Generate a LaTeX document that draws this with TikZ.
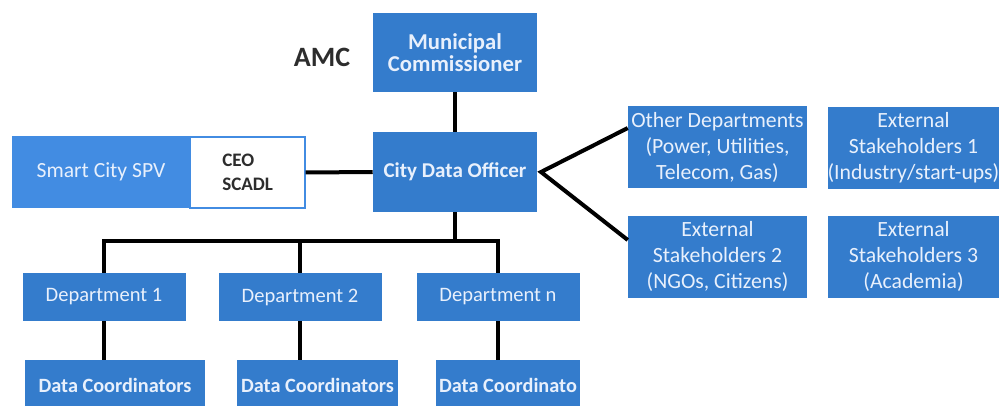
\documentclass[tikz,border=0pt]{standalone}
\usepackage{fontspec}
\setmainfont{Carlito}
\usepackage{tikz}

\definecolor{boxblue}{RGB}{52,124,204}
\definecolor{spvblue}{RGB}{66,140,226}
\definecolor{boxtext}{RGB}{232,240,252}
\definecolor{darktext}{RGB}{45,45,45}

\begin{document}
\begin{tikzpicture}[x=0.75pt,y=0.75pt,yscale=-1,xscale=1,
  box/.style={fill=boxblue,draw=none,inner sep=0pt,align=center,text=boxtext},
  link/.style={draw=black,line width=3pt},
  rbox/.style={box,minimum height=61.5pt,font=\fontsize{16.3}{19.5}\selectfont},
  deptbox/.style={box,minimum width=122.25pt,minimum height=36pt,font=\fontsize{15.4}{18}\selectfont},
  coordbox/.style={box,minimum height=37.5pt,font=\bfseries\fontsize{15.2}{18}\selectfont}]
\useasboundingbox (0,0) rectangle (999,406);

%Shape: Rectangle
\node [box,minimum width=123pt,minimum height=59.25pt,font=\bfseries\fontsize{17}{16.5}\selectfont] (mc) at (455,52.5) {Municipal\\Commissioner};
% Text Node
\node [font=\bfseries\fontsize{21}{24}\selectfont,text=darktext,inner sep=0.75pt] (amc) at (322,57) {AMC};
%Shape: Rectangle
\node [box,minimum width=123pt,minimum height=60pt,font=\bfseries\fontsize{15.8}{18}\selectfont] (cdo) at (455,172) {City Data Officer};
%Shape: Rectangle
\node [box,fill=spvblue,minimum width=133.5pt,minimum height=54pt,font=\fontsize{16.2}{18}\selectfont] (spv) at (101,172) {Smart City SPV};
%Shape: Rectangle
\node [draw=spvblue,line width=0.8pt,fill=white,inner sep=0pt,minimum width=86.25pt,minimum height=53.25pt] (ceo) at (247.5,172.5) {};
% Text Node
\node [anchor=west,align=left,text=darktext,inner sep=0pt,font=\bfseries\fontsize{14.3}{18}\selectfont] (ceotxt) at (222,172.5) {CEO\\SCADL};

%Shape: Rectangle
\node [rbox,minimum width=134.25pt] (od) at (717.5,147.5) {Other Departments\\(Power, Utilities,\\Telecom, Gas)};
\node [rbox,minimum width=128.25pt] (es1) at (913.5,148) {External\\Stakeholders 1\\(Industry/start-ups)};
\node [rbox,minimum width=134.25pt] (es2) at (717.5,256.5) {External\\Stakeholders 2\\(NGOs, Citizens)};
\node [rbox,minimum width=128.25pt] (es3) at (913.5,256.5) {External\\Stakeholders 3\\(Academia)};

%Shape: Rectangle
\node [deptbox] (dep1) at (104,297) {Department 1};
\node [deptbox] (dep2) at (300,297) {Department 2};
\node [deptbox] (depn) at (498,297) {Department n};

%Shape: Rectangle
\node [coordbox,minimum width=135pt] (dc1) at (115,385) {Data Coordinators};
\node [coordbox,minimum width=120.75pt] (dc2) at (317.5,385) {Data Coordinators};
\node [coordbox,minimum width=108pt] (dc3) at (508,385) {Data Coordinato};

\coordinate (vtip) at (541,172);
\coordinate (bus) at (0,241);

%Straight Lines
\draw [link] (mc.south) -- (cdo.north);
\draw [link] (ceo.east) -- (cdo.west);
\draw [link] ([yshift=-14.6pt]od.west) -- (vtip) -- ([yshift=-12.4pt]es2.west);
\draw [link] (cdo.south) -- (cdo.south |- bus);
\draw [link] (dep1.north) |- (bus -| depn.north) -- (depn.north);
\draw [link] (dep2.north) -- (dep2.north |- bus);
\draw [link] (dep1.south) -- (dep1.south |- dc1.north);
\draw [link] (dep2.south) -- (dep2.south |- dc2.north);
\draw [link] (depn.south) -- (depn.south |- dc3.north);

\end{tikzpicture}
\end{document}
